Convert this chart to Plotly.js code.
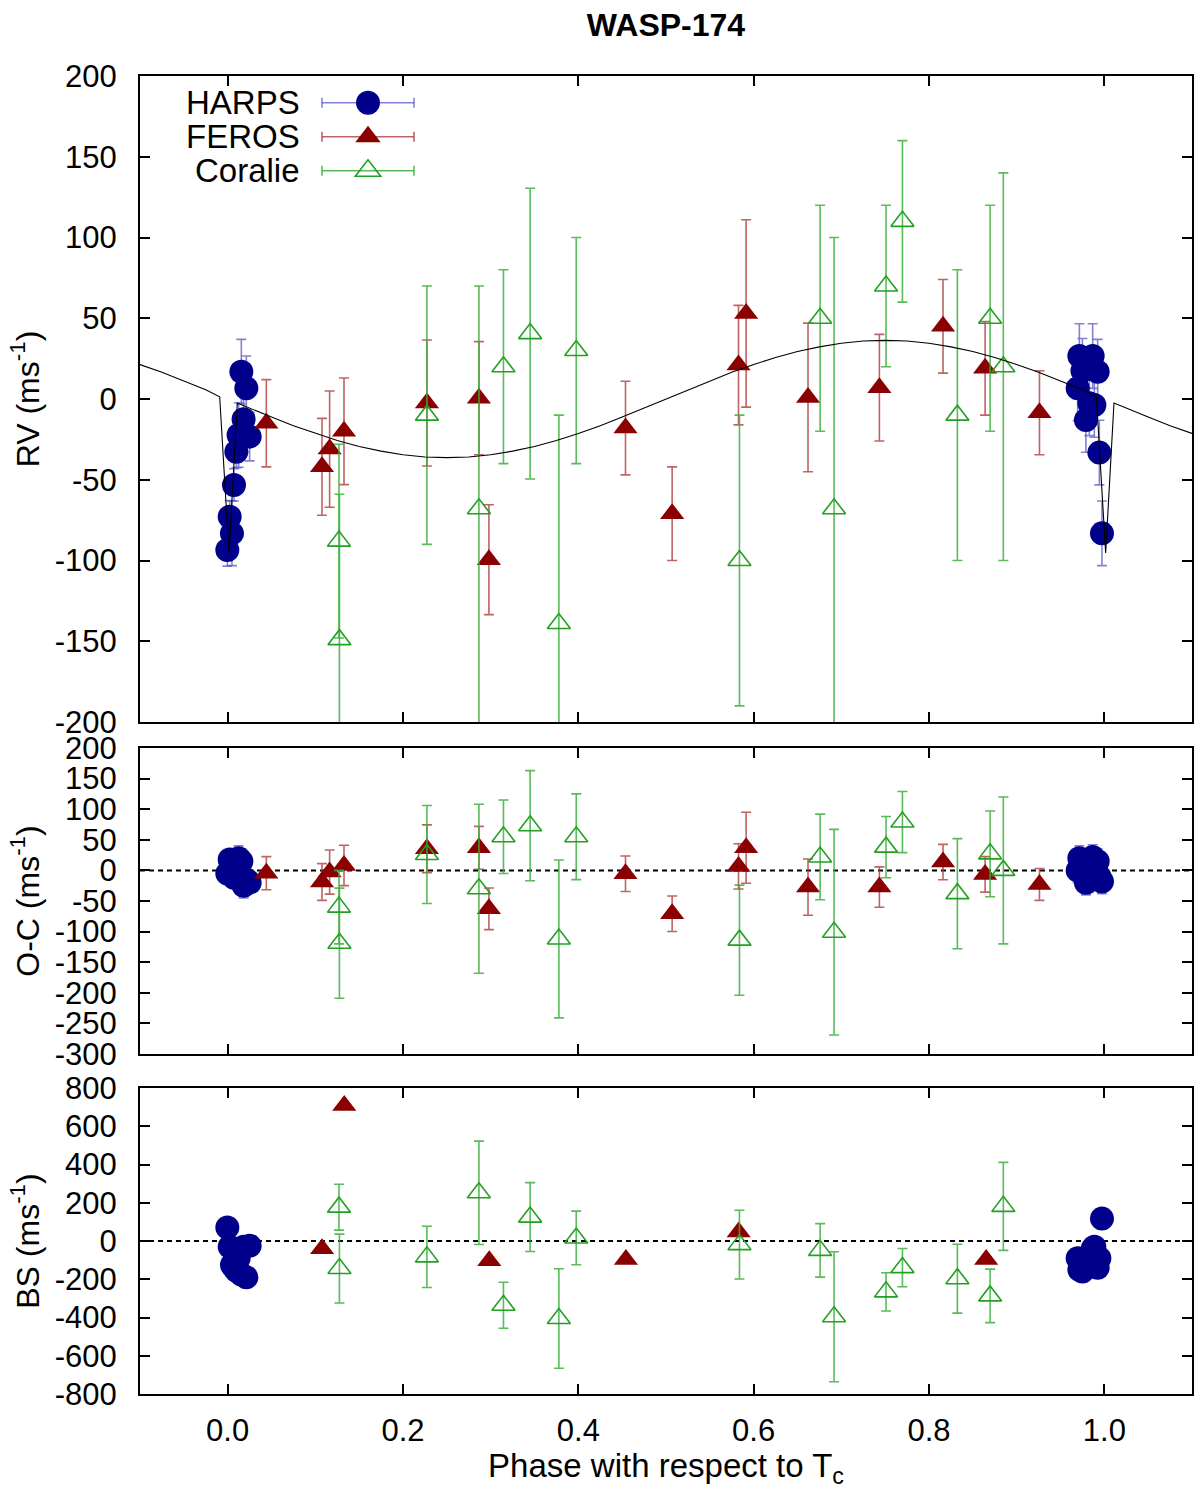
<!DOCTYPE html>
<html>
<head>
<meta charset="utf-8">
<script src="https://cdn.plot.ly/plotly-3.0.1.min.js"></script>
<style>
  html, body { margin: 0; padding: 0; background: #fff; }
  #grafica { width: 1200px; height: 1489px; }
</style>
</head>
<body>
<div id="grafica"></div>
<script>
// --- datos (fase respecto a Tc) ---

// HARPS
const harpsPhase = [-0.0004, 0.0023, 0.0049, 0.0072, 0.0099, 0.0125, 0.0156, 0.0182, 0.0213, 0.0251,
                    0.9696, 0.9715, 0.9750, 0.9790, 0.9829, 0.9867, 0.9886, 0.9924, 0.9943, 0.9973];
const harpsRV  = [-93.5, -72.9, -83.2, -53.2, -32.6, -22.3, 16.9, -12.6, 6.6, -23.3,
                  6.6, 26.6, 17.5, -13.0, -2.7, 26.6, -3.7, 16.9, -33.2, -83.2];
const harpsErr = [10, 10, 20, 10, 10, 20, 20, 20, 20, 15,
                  20, 20, 20, 20, 20, 20, 20, 20, 20, 20];
const harpsOC  = [-5, 18, 8, -12, 0, 20, 15, -25, -15, -20,
                  0, 20, 10, -20, -15, 22, 5, 15, -10, -18];
const harpsBS  = [70, -30, -125, -140, -155, -90, -175, -30, -190, -25,
                  -90, -150, -160, -90, -130, -40, -30, -140, -90, 117];

// FEROS
const ferosPhase = [0.0441, 0.1076, 0.1163, 0.1327, 0.2273, 0.2866, 0.2980, 0.4538,
                    0.5070, 0.5827, 0.5914, 0.6620, 0.7434, 0.8160, 0.8640, 0.9260];
const ferosRV  = [-15, -42, -31, -20, -2.5, 0.5, -99.5, -18, -71, 21, 53, 1, 7, 45, 19, -8.5];
const ferosErr = [27, 30, 36, 33, 39, 35, 34, 29, 29, 37, 58, 46, 33, 29, 29, 26];
const ferosOC  = [-4.5, -19, -2.7, 8.2, 35.4, 37, -62.7, -5.5, -70.9, 6.5, 37, -27.3, -27.3, 13.6, -6.5, -22.9];
const ferosBSPhase = [0.1077, 0.1330, 0.2984, 0.4543, 0.5829, 0.8652];
const ferosBS  = [-40, 709, -103, -97, 47, -97];

// Coralie
const coraliePhase = [0.1270, 0.1275, 0.2273, 0.2866, 0.3146, 0.3450, 0.3778, 0.3976,
                      0.5838, 0.6758, 0.6917, 0.7510, 0.7697, 0.8324, 0.8697, 0.8848];
const coralieRV  = [-88, -149, -10, -68, 20, 40.5, -139, 30, -100, 50, -68, 70, 110, -10, 50, 20];
const coralieErr = [60, 90, 80, 138, 60, 90, 129, 70, 90, 70, 168, 50, 50, 90, 70, 120];
const coralieOC  = [-60, -119, 26, -30, 55, 73, -112, 55, -114, 22, -101, 38, 79, -38, 27, 0];
const coralieBS  = [177, -144, -83, 252, -336, 125, -405, 16, -19, -49, -396, -266, -139, -197, -287, 181];
const coralieBSErr = [120, 180, 160, 270, 120, 180, 260, 140, 180, 140, 340, 100, 100, 180, 140, 230];

// Modelo (curva negra, con el efecto Rossiter-McLaughlin en el transito)
const modelPhase = [-0.1, -0.075, -0.05, -0.025, -0.0091, 0.0015, 0.011, 0.025, 0.05, 0.075,
                    0.1, 0.125, 0.15, 0.175, 0.2, 0.225, 0.25, 0.275, 0.3, 0.325,
                    0.35, 0.375, 0.4, 0.425, 0.45, 0.475, 0.5, 0.525, 0.55, 0.575,
                    0.6, 0.625, 0.65, 0.675, 0.7, 0.725, 0.75, 0.775, 0.8, 0.825,
                    0.85, 0.875, 0.9, 0.925, 0.95, 0.975, 0.9909, 1.0015, 1.011, 1.025,
                    1.05, 1.075, 1.1];
const modelRV = [21.3, 16.5, 11.2, 5.7, 1.4, -95.4, -2.5, -5.7, -11.2, -16.5,
                 -21.3, -25.7, -29.4, -32.3, -34.5, -35.9, -36.3, -35.9, -34.5, -32.3,
                 -29.4, -25.7, -21.3, -16.5, -11.2, -5.7, 0, 5.7, 11.2, 16.5,
                 21.3, 25.7, 29.4, 32.3, 34.5, 35.9, 36.3, 35.9, 34.5, 32.3,
                 29.4, 25.7, 21.3, 16.5, 11.2, 5.7, 1.4, -95.4, -2.5, -5.7,
                 -11.2, -16.5, -21.3];

// Ticks
const phaseTicks = [0, 0.2, 0.4, 0.6, 0.8, 1.0];
const phaseTickText = ['0.0', '0.2', '0.4', '0.6', '0.8', '1.0'];
const rvTicks = [-200, -150, -100, -50, 0, 50, 100, 150, 200];
const ocTicks = [-300, -250, -200, -150, -100, -50, 0, 50, 100, 150, 200];
const bsTicks = [-800, -600, -400, -200, 0, 200, 400, 600, 800];

const legendNames = ['HARPS', 'FEROS', 'Coralie'];

// --- estilos ---
const FONT = 'Liberation Sans, Arial, Helvetica, sans-serif';
const plotL = 140, plotR = 1192, plotT = 76, plotB = 1394;
function pxX(px) { return (px - plotL) / (plotR - plotL); }
function pxY(py) { return (plotB - py) / (plotB - plotT); }

const estilos = {
    HARPS:   { symbol: 'circle', size: 24, color: '#00008b', bar: 'rgba(90,90,200,0.75)', open: false },
    FEROS:   { symbol: 'triangle-up', size: 21, color: '#8b0000', bar: 'rgba(175,60,60,0.8)', open: false },
    Coralie: { symbol: 'triangle-up-open', size: 20, color: '#22a022', bar: 'rgba(60,175,60,0.85)', open: true }
};

function puntos(nombre, x, y, err, ejes) {
    const st = estilos[nombre];
    const tr = {
        x: x, y: y, type: 'scatter', mode: 'markers', name: nombre,
        xaxis: ejes[0], yaxis: ejes[1],
        marker: { symbol: st.symbol, size: st.size, color: st.color,
                  line: { color: st.color, width: st.open ? 1.6 : 0 } },
        hoverinfo: 'x+y'
    };
    if (err) {
        tr.error_y = { type: 'data', array: err, visible: true, color: st.bar, thickness: 1.6, width: 5 };
    }
    return tr;
}

const traces = [
    // RV
    puntos('HARPS', harpsPhase, harpsRV, harpsErr, ['x', 'y']),
    puntos('FEROS', ferosPhase, ferosRV, ferosErr, ['x', 'y']),
    puntos('Coralie', coraliePhase, coralieRV, coralieErr, ['x', 'y']),
    { x: modelPhase, y: modelRV, type: 'scatter', mode: 'lines', name: 'modelo',
      xaxis: 'x', yaxis: 'y', line: { color: '#000', width: 1.1 }, hoverinfo: 'skip' },
    // O-C
    puntos('HARPS', harpsPhase, harpsOC, harpsErr, ['x2', 'y2']),
    puntos('FEROS', ferosPhase, ferosOC, ferosErr, ['x2', 'y2']),
    puntos('Coralie', coraliePhase, coralieOC, coralieErr, ['x2', 'y2']),
    // BS
    puntos('HARPS', harpsPhase, harpsBS, null, ['x3', 'y3']),
    puntos('FEROS', ferosBSPhase, ferosBS, null, ['x3', 'y3']),
    puntos('Coralie', coraliePhase, coralieBS, coralieBSErr, ['x3', 'y3'])
];

const ejeBase = {
    showline: true, linecolor: '#000', linewidth: 2, mirror: 'ticks',
    ticks: 'inside', ticklen: 10, tickwidth: 1.5, tickcolor: '#000',
    showgrid: false, zeroline: false,
    tickfont: { family: FONT, size: 31, color: '#000' }
};

function ejeX(anchor, etiquetas) {
    const ax = Object.assign({}, ejeBase, {
        anchor: anchor, range: [-0.1, 1.1],
        tickmode: 'array', tickvals: phaseTicks, ticktext: phaseTickText,
        showticklabels: etiquetas, ticklabelstandoff: 8
    });
    if (anchor !== 'y') ax.matches = 'x';
    return ax;
}

function ejeY(anchor, dominio, rango, ticks, titulo) {
    return Object.assign({}, ejeBase, {
        anchor: anchor, domain: dominio, range: rango,
        tickmode: 'array', tickvals: ticks, ticktext: ticks.map(String),
        ticklabelstandoff: 15,
        title: { text: titulo, font: { family: FONT, size: 32, color: '#000' }, standoff: 6 }
    });
}

const xaxis3 = ejeX('y3', true);
xaxis3.title = { text: 'Phase with respect to T<sub>c</sub>', font: { family: FONT, size: 33, color: '#000' }, standoff: 0 };

// leyenda al estilo gnuplot: texto a la izquierda, muestra a la derecha
const filasY = [102.7, 136.7, 170.7];
const shapes = [];
const annotations = [];
legendNames.forEach((nombre, i) => {
    const st = estilos[nombre];
    const yc = filasY[i];
    annotations.push({
        text: nombre, xref: 'paper', yref: 'paper', x: pxX(302), y: pxY(yc),
        xanchor: 'right', yanchor: 'middle', showarrow: false,
        font: { family: FONT, size: 33, color: '#000' }
    });
    shapes.push({ type: 'line', xref: 'paper', yref: 'paper', x0: pxX(322), x1: pxX(414), y0: pxY(yc), y1: pxY(yc),
                  line: { color: st.bar, width: 1.6 } });
    [322, 414].forEach(xc => shapes.push({ type: 'line', xref: 'paper', yref: 'paper',
        x0: pxX(xc), x1: pxX(xc), y0: pxY(yc - 5), y1: pxY(yc + 5), line: { color: st.bar, width: 1.6 } }));
    if (st.symbol === 'circle') {
        shapes.push({ type: 'circle', xref: 'paper', yref: 'paper',
            x0: pxX(368 - 12), x1: pxX(368 + 12), y0: pxY(yc + 12), y1: pxY(yc - 12),
            fillcolor: st.color, line: { width: 0 } });
    } else {
        const r = 11, rt = r * 2 / Math.sqrt(3);
        const path = 'M' + pxX(368 - rt) + ',' + pxY(yc + r / 2) +
                     'L' + pxX(368 + rt) + ',' + pxY(yc + r / 2) +
                     'L' + pxX(368) + ',' + pxY(yc - r) + 'Z';
        shapes.push({ type: 'path', xref: 'paper', yref: 'paper', path: path,
            fillcolor: st.open ? 'rgba(0,0,0,0)' : st.color,
            line: { color: st.color, width: st.open ? 1.6 : 0 } });
    }
});

// lineas punteadas en cero
['2', '3'].forEach(n => shapes.push({
    type: 'line', xref: 'x' + n + ' domain', yref: 'y' + n, x0: 0, x1: 1, y0: 0, y1: 0,
    line: { color: '#000', width: 2, dash: '5px,4px' }, layer: 'below'
}));

const layout = {
    width: 1200, height: 1489,
    margin: { l: 140, r: 8, t: 76, b: 95, pad: 0 },
    paper_bgcolor: '#fff', plot_bgcolor: '#fff',
    showlegend: false,
    font: { family: FONT, color: '#000' },
    title: { text: '<b>WASP-174</b>', x: 0.5, xref: 'paper', xanchor: 'center',
             y: 1 - 25 / 1489, yref: 'container', yanchor: 'middle',
             font: { family: FONT, size: 32, color: '#000' } },
    xaxis: ejeX('y', false),
    xaxis2: ejeX('y2', false),
    xaxis3: xaxis3,
    yaxis: ejeY('x', [pxY(722), 1], [-200, 200], rvTicks, 'RV (ms<sup>-1</sup>)'),
    yaxis2: ejeY('x2', [pxY(1054), pxY(748)], [-300, 200], ocTicks, 'O-C (ms<sup>-1</sup>)'),
    yaxis3: ejeY('x3', [0, pxY(1088)], [-800, 800], bsTicks, 'BS (ms<sup>-1</sup>)'),
    shapes: shapes,
    annotations: annotations
};

Plotly.newPlot('grafica', traces, layout, { displayModeBar: false });
</script>
</body>
</html>
